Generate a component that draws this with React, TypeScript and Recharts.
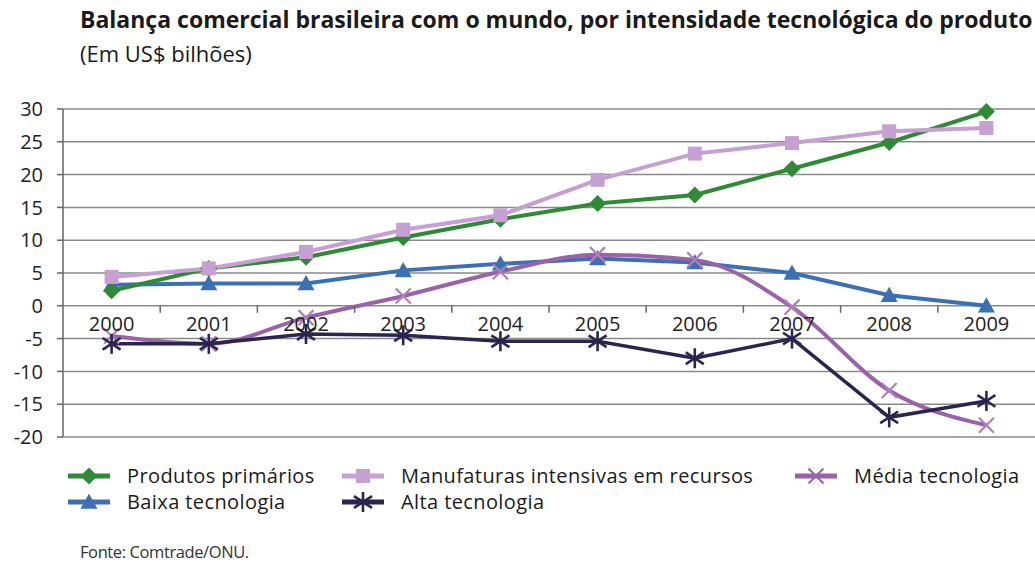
import React from "react";
import { LineChart, Line, XAxis, YAxis, CartesianGrid } from "recharts";

const years = ["2000", "2001", "2002", "2003", "2004", "2005", "2006", "2007", "2008", "2009"];
const produtosPrimarios = [2.3, 5.7, 7.4, 10.4, 13.2, 15.6, 16.9, 20.9, 24.9, 29.6];
const manufaturas = [4.4, 5.7, 8.2, 11.6, 13.8, 19.2, 23.2, 24.8, 26.6, 27.1];
const baixaTecnologia = [3.2, 3.4, 3.4, 5.4, 6.4, 7.2, 6.6, 5.0, 1.6, 0.0];
const mediaTecnologia = [-4.6, -5.8, -1.8, 1.5, 5.2, 7.8, 7.0, -0.2, -12.9, -18.2];
const altaTecnologia = [-5.8, -5.8, -4.3, -4.5, -5.4, -5.4, -8.0, -5.0, -17.0, -14.5];
const yTicks = [30, 25, 20, 15, 10, 5, 0, -5, -10, -15, -20];

const Y_MIN = -20;
const Y_MAX = 30;

const GREEN = "#2e8a35";
const LILAC = "#c6a0d2";
const BLUE = "#3b70b6";
const PURPLE = "#9a63a9";
const NAVY = "#2a2550";

const FONT = "'Open Sans', 'Noto Sans', sans-serif";

const CHART_W = 1035;
const X_AXIS_H = 30;
const MARGIN = { top: 109, right: 0, bottom: 0, left: 0 };
const PLOT_H = 328;
const CHART_H = MARGIN.top + PLOT_H + X_AXIS_H;
const Y_AXIS_W = 63;
const PLOT_W = CHART_W - Y_AXIS_W - MARGIN.left - MARGIN.right;
const STEP = PLOT_W / years.length;
// the category axis crosses the value axis at zero
const ZERO_SHIFT = (PLOT_H * (0 - Y_MIN)) / (Y_MAX - Y_MIN);

const data = years.map((year, i) => ({
  year,
  primarios: produtosPrimarios[i],
  manufaturas: manufaturas[i],
  baixa: baixaTecnologia[i],
  media: mediaTecnologia[i],
  alta: altaTecnologia[i],
}));

function Diamond({ cx, cy, color = GREEN, size = 8.5 }: any) {
  if (cx == null || cy == null) return null;
  const s = size;
  return <polygon points={`${cx},${cy - s} ${cx + s},${cy} ${cx},${cy + s} ${cx - s},${cy}`} fill={color} />;
}

function Square({ cx, cy, color = LILAC, size = 7 }: any) {
  if (cx == null || cy == null) return null;
  return <rect x={cx - size} y={cy - size} width={size * 2} height={size * 2} fill={color} />;
}

function Triangle({ cx, cy, color = BLUE, size = 8.5 }: any) {
  if (cx == null || cy == null) return null;
  const s = size;
  return <polygon points={`${cx},${cy - s} ${cx + s},${cy + s * 0.8} ${cx - s},${cy + s * 0.8}`} fill={color} />;
}

function Cross({ cx, cy, color = "#ad80bc", size = 7.5 }: any) {
  if (cx == null || cy == null) return null;
  const s = size;
  return (
    <g stroke={color} strokeWidth={2.2}>
      <line x1={cx - s} y1={cy - s} x2={cx + s} y2={cy + s} />
      <line x1={cx - s} y1={cy + s} x2={cx + s} y2={cy - s} />
    </g>
  );
}

function Asterisk({ cx, cy, color = NAVY, size = 10 }: any) {
  if (cx == null || cy == null) return null;
  const s = size;
  const d = s * 0.9;
  return (
    <g stroke={color} strokeWidth={2.6}>
      <line x1={cx} y1={cy - s} x2={cx} y2={cy + s} />
      <line x1={cx - d} y1={cy - d * 0.65} x2={cx + d} y2={cy + d * 0.65} />
      <line x1={cx - d} y1={cy + d * 0.65} x2={cx + d} y2={cy - d * 0.65} />
    </g>
  );
}

function YearTick(props: any) {
  const { x, y, payload, index } = props;
  const zeroY = y - ZERO_SHIFT;
  return (
    <g>
      {index < years.length - 1 && (
        <line x1={x + STEP / 2} y1={zeroY} x2={x + STEP / 2} y2={zeroY + 7} stroke="#666" strokeWidth={1.5} />
      )}
      <text x={x} y={zeroY + 25} textAnchor="middle" fontSize={20} fontFamily={FONT} fill="#222">
        {payload.value}
      </text>
    </g>
  );
}

const legendItems = [
  { label: "Produtos primários", color: GREEN, Marker: Diamond, left: 68, top: 464 },
  { label: "Manufaturas intensivas em recursos", color: LILAC, Marker: Square, left: 342, top: 464 },
  { label: "Média tecnologia", color: PURPLE, Marker: Cross, left: 795, top: 464 },
  { label: "Baixa tecnologia", color: BLUE, Marker: Triangle, left: 68, top: 490 },
  { label: "Alta tecnologia", color: NAVY, Marker: Asterisk, left: 342, top: 490 },
];

export default function App() {
  return (
    <div style={{ position: "absolute", left: 0, top: 0, width: CHART_W, height: 562, background: "#fff", overflow: "hidden", fontFamily: FONT }}>
      <div style={{ position: "absolute", left: 80, top: 3, fontSize: 23, fontWeight: 700, color: "#1a1a1a", whiteSpace: "nowrap" }}>
        Balança comercial brasileira com o mundo, por intensidade tecnológica do produto
      </div>
      <div style={{ position: "absolute", left: 80, top: 38, fontSize: 22, color: "#1a1a1a", whiteSpace: "nowrap" }}>
        (Em US$ bilhões)
      </div>
      <div style={{ position: "absolute", left: 0, top: 0 }}>
        <LineChart width={CHART_W} height={CHART_H} data={data} margin={MARGIN}>
          <CartesianGrid horizontal vertical={false} stroke="#8a8a8a" strokeWidth={1.5} />
          <XAxis
            dataKey="year"
            height={X_AXIS_H}
            padding={{ left: STEP / 2, right: STEP / 2 }}
            axisLine={false}
            tickLine={false}
            tickSize={0}
            tickMargin={0}
            interval={0}
            tick={(p: any) => <YearTick {...p} />}
          />
          <YAxis
            width={Y_AXIS_W}
            domain={[Y_MIN, Y_MAX]}
            ticks={yTicks}
            interval={0}
            axisLine={{ stroke: "#666", strokeWidth: 1.5 }}
            tickLine={{ stroke: "#666", strokeWidth: 1.5 }}
            tickSize={6}
            tickMargin={14}
            tick={{ fontSize: 20, fill: "#222", fontFamily: FONT }}
          />
          <Line type="linear" dataKey="baixa" stroke={BLUE} strokeWidth={4} dot={(p: any) => <Triangle key={p.index} cx={p.cx} cy={p.cy} />} isAnimationActive={false} />
          <Line type="monotone" dataKey="media" stroke={PURPLE} strokeWidth={4} dot={(p: any) => <Cross key={p.index} cx={p.cx} cy={p.cy} />} isAnimationActive={false} />
          <Line type="linear" dataKey="alta" stroke={NAVY} strokeWidth={3.5} dot={(p: any) => <Asterisk key={p.index} cx={p.cx} cy={p.cy} />} isAnimationActive={false} />
          <Line type="linear" dataKey="primarios" stroke={GREEN} strokeWidth={4} dot={(p: any) => <Diamond key={p.index} cx={p.cx} cy={p.cy} />} isAnimationActive={false} />
          <Line type="linear" dataKey="manufaturas" stroke={LILAC} strokeWidth={4} dot={(p: any) => <Square key={p.index} cx={p.cx} cy={p.cy} />} isAnimationActive={false} />
        </LineChart>
      </div>
      {legendItems.map(({ label, color, Marker, left, top }) => (
        <div key={label} style={{ position: "absolute", left, top, height: 24, display: "flex", alignItems: "center", whiteSpace: "nowrap" }}>
          <svg width={42} height={22}>
            <line x1={0} y1={11} x2={42} y2={11} stroke={color} strokeWidth={5} />
            <Marker cx={21} cy={11} color={color} />
          </svg>
          <span style={{ marginLeft: 17, fontSize: 20, lineHeight: "24px", letterSpacing: 0.4, color: "#1a1a1a" }}>{label}</span>
        </div>
      ))}
      <div style={{ position: "absolute", left: 80, top: 540, fontSize: 16.5, color: "#333", whiteSpace: "nowrap", letterSpacing: -0.4 }}>
        Fonte: Comtrade/ONU.
      </div>
    </div>
  );
}
